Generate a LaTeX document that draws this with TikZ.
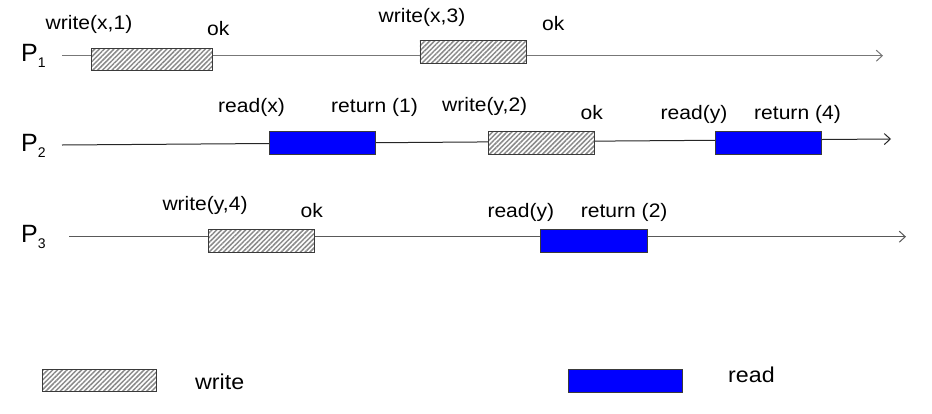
\documentclass[tikz,border=0pt]{standalone}
\usepackage{fontspec}
\setmainfont{Liberation Sans}[FakeStretch=1.08]
\newfontfamily\pfont{Liberation Sans}
\usetikzlibrary{arrows.meta,patterns.meta}
\definecolor{linegray}{HTML}{777777}
\definecolor{hatchgray}{HTML}{8A8A8A}
\definecolor{edgegray}{HTML}{3A3A3A}
\tikzset{
  lbl/.style={anchor=base west,inner sep=0pt,font=\fontsize{19.5}{21}\selectfont},
  leg/.style={anchor=base west,inner sep=0pt,font=\fontsize{21.5}{23}\selectfont},
  proc/.style={anchor=base west,inner sep=0pt,font=\pfont\fontsize{25}{27}\selectfont},
  timeline/.style={line width=1.3pt,-{Straight Barb[length=6pt,width=11pt,line width=1pt]}},
  wbox/.style={draw=edgegray,line width=0.9pt,fill=white,
    pattern={Lines[angle=45,distance=3.4pt,line width=1.5pt]},pattern color=hatchgray,
    minimum height=22.6pt,inner sep=0pt},
  wback/.style={fill=white,draw=none,minimum height=22.6pt,inner sep=0pt},
  rbox/.style={draw=edgegray,line width=0.9pt,fill=blue,minimum height=23pt,inner sep=0pt},
}
\newcommand{\procname}[1]{P\raisebox{-5.4pt}{\fontsize{14}{14}\selectfont #1}}
\begin{document}
\begin{tikzpicture}[x=1pt,y=-1pt]
\useasboundingbox (0,0) rectangle (932,413);
% time lines
\coordinate (p1s) at (62,55.7);
\coordinate (p1e) at (883,55.7);
\coordinate (p2s) at (62,145);
\coordinate (p2e) at (891,139);
\coordinate (p3s) at (69,236.7);
\coordinate (p3e) at (906,236.7);
\draw[timeline,draw=linegray] (p1s) -- (p1e);
\draw[timeline,draw=black!85,line width=1pt] (p2s) -- (p2e);
\draw[timeline,draw=black!65,line width=1.1pt] (p3s) -- (p3e);
% process names
\node[proc] (P1) at (21,61.7) {\procname{1}};
\node[proc] (P2) at (21,151.7) {\procname{2}};
\node[proc] (P3) at (21,242.7) {\procname{3}};
% P1 operations
\node[wback,minimum width=120.6pt] at (152,59.5) {};
\node[wbox,minimum width=120.6pt] (w1) at (152,59.5) {};
\node[wback,minimum width=106.7pt] at (473.3,52) {};
\node[wbox,minimum width=106.7pt] (w3) at (473.3,52) {};
\node[lbl] (w1l) at (45.5,29.3) {write(x,1)};
\node[lbl] (w1o) at (207,35) {ok};
\node[lbl] (w3l) at (378.5,22.5) {write(x,3)};
\node[lbl] (w3o) at (542,30) {ok};
% P2 operations
\node[rbox,minimum width=106.7pt] (r1) at (322.3,142.5) {};
\node[wback,minimum width=106pt] at (541.3,142.7) {};
\node[wbox,minimum width=106pt] (w2) at (541.3,142.7) {};
\node[rbox,minimum width=106pt] (r4) at (768,142.7) {};
\node[lbl] (r1l) at (218,112.7) {read(x)};
\node[lbl] (r1o) at (331,112.7) {return (1)};
\node[lbl] (w2l) at (442,111.7) {write(y,2)};
\node[lbl] (w2o) at (580.5,119.3) {ok};
\node[lbl] (r4l) at (660.5,119.3) {read(y)};
\node[lbl] (r4o) at (754,119.3) {return (4)};
% P3 operations
\node[wback,minimum width=106.4pt] at (261.5,240.7) {};
\node[wbox,minimum width=106.4pt] (w4) at (261.5,240.7) {};
\node[rbox,minimum width=106.3pt] (r2) at (593.8,240.7) {};
\node[lbl] (w4l) at (162.3,210) {write(y,4)};
\node[lbl] (w4o) at (300.5,217.3) {ok};
\node[lbl] (r2l) at (487.3,217.3) {read(y)};
\node[lbl] (r2o) at (580.7,217.3) {return (2)};
% legend
\node[wback,minimum width=114pt] at (99,380.5) {};
\node[wbox,minimum width=114pt] (legw) at (99,380.5) {};
\node[rbox,minimum width=114pt] (legr) at (625,380.5) {};
\node[leg] (legwt) at (195,389.3) {write};
\node[leg] (legrt) at (728,382.7) {read};
\end{tikzpicture}
\end{document}
